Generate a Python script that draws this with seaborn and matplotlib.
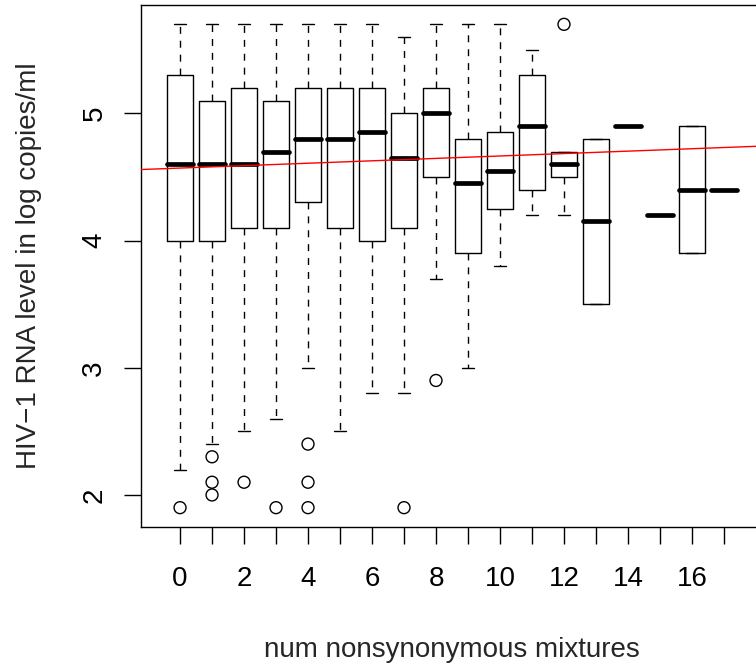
import matplotlib
matplotlib.use("Agg")
import matplotlib.pyplot as plt
import numpy as np
import pandas as pd
import seaborn as sns

# Number of nonsynonymous mixtures per sample (box positions)
mixtures = list(range(18))

# Five-number summaries of HIV-1 RNA level (log copies/ml) for each group
whisker_low = [2.2, 2.4, 2.5, 2.6, 3.0, 2.5, 2.8, 2.8, 3.7, 3.0, 3.8, 4.2, 4.2, 3.5, 4.9, 4.2, 3.9, 4.4]
lower_quartile = [4.0, 4.0, 4.1, 4.1, 4.3, 4.1, 4.0, 4.1, 4.5, 3.9, 4.25, 4.4, 4.5, 3.5, 4.9, 4.2, 3.9, 4.4]
median = [4.6, 4.6, 4.6, 4.7, 4.8, 4.8, 4.85, 4.65, 5.0, 4.45, 4.55, 4.9, 4.6, 4.15, 4.9, 4.2, 4.4, 4.4]
upper_quartile = [5.3, 5.1, 5.2, 5.1, 5.2, 5.2, 5.2, 5.0, 5.2, 4.8, 4.85, 5.3, 4.7, 4.8, 4.9, 4.2, 4.9, 4.4]
whisker_high = [5.7, 5.7, 5.7, 5.7, 5.7, 5.7, 5.7, 5.6, 5.7, 5.7, 5.7, 5.5, 4.7, 4.8, 4.9, 4.2, 4.9, 4.4]

# Outlying samples: group and viral load
outlier_group = [0, 1, 1, 1, 2, 3, 4, 4, 4, 7, 8, 12]
outlier_value = [1.9, 2.3, 2.1, 2.0, 2.1, 1.9, 2.4, 2.1, 1.9, 1.9, 2.9, 5.7]

# Least-squares fit of viral load on number of mixtures
fit_intercept = 4.57
fit_slope = 0.0095

x_tick_labels = [str(m) if m % 2 == 0 else "" for m in mixtures]
y_ticks = [2, 3, 4, 5]

sns.set_theme(style="white")
plt.rcParams["font.family"] = ["Liberation Sans", "DejaVu Sans"]
plt.rcParams["font.size"] = 20

W, H = 756, 664
fig = plt.figure(figsize=(W / 100, H / 100), dpi=100)
left_px, right_px, top_px, bottom_px = 141, 763, 5, 527
ax = fig.add_axes([left_px / W, 1 - bottom_px / H,
                   (right_px - left_px) / W, (bottom_px - top_px) / H])

stats = [
    dict(whislo=lo, q1=a, med=m, q3=b, whishi=hi, fliers=[])
    for lo, a, m, b, hi in zip(whisker_low, lower_quartile, median,
                               upper_quartile, whisker_high)
]
ax.bxp(
    stats, positions=mixtures, widths=0.8, showfliers=False,
    boxprops=dict(color="black", linewidth=1.0),
    medianprops=dict(color="black", linewidth=3.4, solid_capstyle="round"),
    whiskerprops=dict(color="black", linewidth=1.0, linestyle=(0, (5, 5))),
    capprops=dict(color="black", linewidth=1.0),
    manage_ticks=False,
)

outliers = pd.DataFrame({"group": outlier_group, "value": outlier_value})
sns.scatterplot(data=outliers, x="group", y="value", ax=ax, marker="o",
                s=74, facecolor="none", edgecolor="black", linewidth=1.0,
                zorder=3, legend=False)

ax.set_xlim(-1.22, 18.22)
ax.set_ylim(1.748, 5.852)

fit_x = np.array(ax.get_xlim())
fit = pd.DataFrame({"x": fit_x, "y": fit_intercept + fit_slope * fit_x})
sns.lineplot(data=fit, x="x", y="y", ax=ax, color="red", linewidth=1.0,
             zorder=4)

ax.set_xticks(mixtures)
ax.set_xticklabels(x_tick_labels)
ax.set_yticks(y_ticks)
ax.set_yticklabels([str(v) for v in y_ticks], rotation=90, va="center")
ax.tick_params(axis="both", direction="out", length=12.2, width=1.0,
               color="black", labelsize=20, labelcolor="black", bottom=True,
               left=True)
ax.tick_params(axis="x", pad=16)
ax.tick_params(axis="y", pad=12)

for side in ["left", "top", "bottom"]:
    ax.spines[side].set_color("black")
    ax.spines[side].set_linewidth(1.0)
ax.spines["right"].set_visible(False)

ax.set_xlabel("num nonsynonymous mixtures", fontsize=20, va="baseline")
ax.xaxis.set_label_coords(0.5, (bottom_px - 657) / (bottom_px - top_px))
ax.set_ylabel("HIV\u22121 RNA level in log copies/ml", fontsize=20,
              va="center", ha="center")
ax.yaxis.set_label_coords((29 - left_px) / (right_px - left_px), 0.5)

fig.savefig("out.png", dpi=100)
